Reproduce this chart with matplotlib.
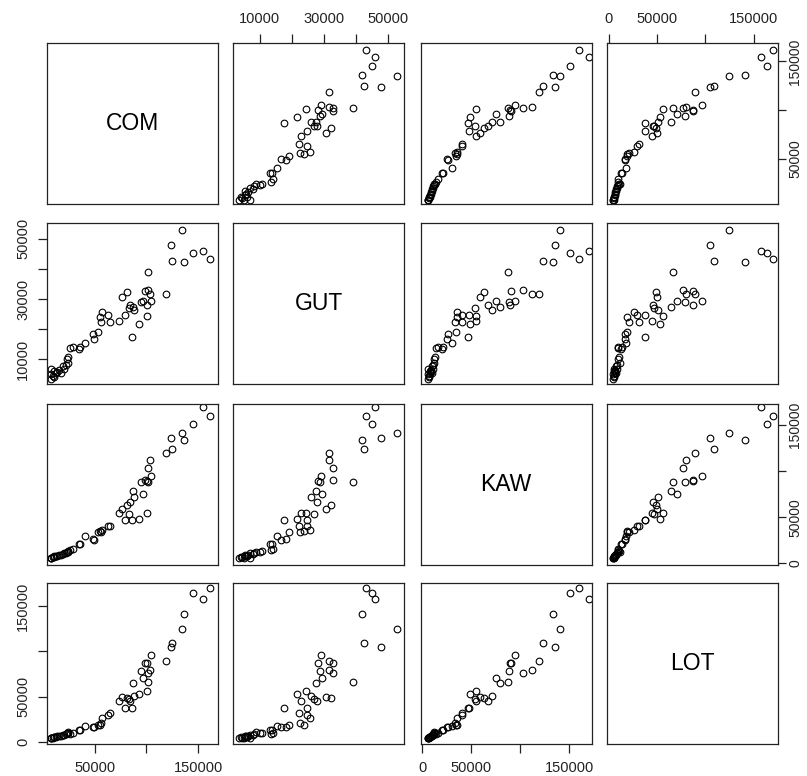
import numpy as np
import pandas as pd
import matplotlib
matplotlib.use("Agg")
import matplotlib.pyplot as plt

plt.rcParams['font.family'] = ['Liberation Sans', 'DejaVu Sans']

# values
COM = [7400, 8100, 7900, 9400, 10600, 10600, 12600, 13900, 15800, 17100,
       19000, 20300, 22200, 23500, 24200, 24200, 26100, 29300, 35100, 35800,
       40900, 48700, 49600, 53200, 55100, 56400, 57400, 63200, 64800, 73800,
       76100, 79000, 81500, 84100, 83500, 86400, 87300, 88000, 93200, 94400,
       96400, 98600, 100200, 100900, 101900, 101700, 103500, 104800, 118600, 123400,
       124400, 134700, 136300, 145000, 154400, 161500]
GUT = [5100, 6900, 3600, 4500, 6200, 4100, 5400, 5800, 6500, 5600,
       7800, 6900, 8200, 10000, 10900, 8900, 13600, 14100, 13400, 14000,
       15300, 18400, 16600, 19200, 23900, 22500, 25800, 24800, 22300, 22800,
       30800, 24800, 32300, 27900, 27100, 17500, 27500, 26200, 21700, 28900,
       29400, 32800, 28100, 24400, 33000, 39100, 31700, 29200, 31800, 47800,
       42600, 53000, 42100, 45200, 46000, 43100]
KAW = [5800, 6200, 5500, 6600, 7600, 7300, 8000, 8400, 8700, 9500,
       10200, 10900, 11300, 11700, 12800, 12000, 13900, 15700, 20500, 21200,
       30000, 26700, 24900, 34000, 35100, 33500, 35800, 40200, 40500, 54900,
       58500, 47500, 63300, 66900, 53400, 47000, 79000, 71700, 48600, 88200,
       75400, 90400, 89600, 54900, 103200, 88000, 112000, 95100, 119300, 135700,
       123700, 141200, 133900, 151500, 170200, 160300]
LOT = [4100, 4800, 4400, 4900, 5500, 5200, 5900, 6300, 6600, 7000,
       7700, 8100, 8500, 9600, 10300, 11100, 9200, 9900, 12900, 13600,
       17700, 16600, 17000, 18400, 19100, 21000, 26100, 29400, 31600, 44900,
       49700, 37500, 48900, 45600, 47100, 37900, 64700, 50800, 52600, 78700,
       70600, 87500, 86800, 55900, 76500, 66600, 79500, 96400, 89000, 104800,
       109200, 125000, 141200, 164400, 158100, 170300]

names = ["COM", "GUT", "KAW", "LOT"]
df = pd.DataFrame({"COM": COM, "GUT": GUT, "KAW": KAW, "LOT": LOT})

lims = {"COM": (3600, 168800), "GUT": (1800, 55200),
        "KAW": (-1900, 173000), "LOT": (-2000, 175300)}
ticks = {"COM": [50000, 100000, 150000],
         "GUT": [10000, 20000, 30000, 40000, 50000],
         "KAW": [0, 50000, 100000, 150000],
         "LOT": [0, 50000, 100000, 150000]}
tick_labels = {"COM": ["50000", "", "150000"],
               "GUT": ["10000", "", "30000", "", "50000"],
               "KAW": ["0", "50000", "", "150000"],
               "LOT": ["0", "50000", "", "150000"]}

W, H = 807, 776
fig = plt.figure(figsize=(W / 100, H / 100), dpi=100)

col_left = [46.7, 233.3, 420.5, 607]
row_top = [43, 223, 404, 583]
pw, ph = 171, 161

for i, yname in enumerate(names):
    for j, xname in enumerate(names):
        ax = fig.add_axes([col_left[j] / W, 1 - (row_top[i] + ph) / H, pw / W, ph / H])
        ax.set_xlim(lims[xname])
        ax.set_ylim(lims[yname])
        for s in ax.spines.values():
            s.set_linewidth(0.9)
            s.set_color("#222222")
        if i == j:
            ax.text(0.5, 0.5, xname, transform=ax.transAxes, ha="center",
                    va="center", fontsize=16.5)
        else:
            ax.plot(df[xname], df[yname], "o", mfc="none", mec="black",
                    ms=4.8, mew=0.8)
        ax.set_xticks([])
        ax.set_yticks([])
        ax.tick_params(direction="out", length=6.5, width=0.9, pad=5.5,
                       labelsize=10.5, colors="#222222")
        # R-style outer axes, alternating sides
        if i == 0 and j % 2 == 1:
            ax.xaxis.tick_top()
            ax.set_xticks(ticks[xname])
            ax.set_xticklabels(tick_labels[xname])
        if i == 3 and j % 2 == 0:
            ax.set_xticks(ticks[xname])
            ax.set_xticklabels(tick_labels[xname])
        if j == 0 and i % 2 == 1:
            ax.set_yticks(ticks[yname])
            ax.set_yticklabels(tick_labels[yname], rotation=90, va="center")
        if j == 3 and i % 2 == 0:
            ax.yaxis.tick_right()
            ax.set_yticks(ticks[yname])
            ax.set_yticklabels(tick_labels[yname], rotation=90, va="center")
            ax.tick_params(axis="y", length=5.5, pad=2, labelsize=10)

fig.savefig("out.png", dpi=100)
